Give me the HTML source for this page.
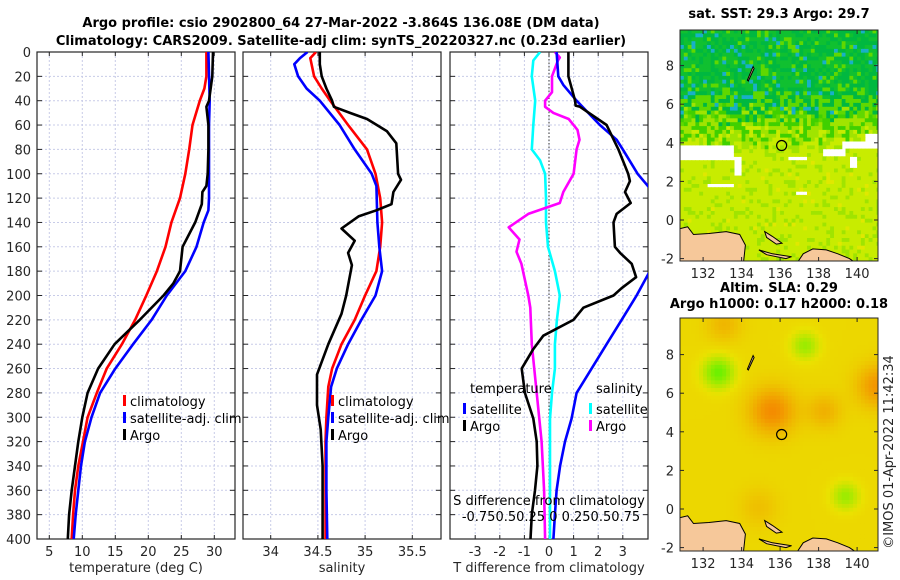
<!DOCTYPE html>
<html><head><meta charset="utf-8"><style>
html,body{margin:0;padding:0;background:#fff}
svg{display:block;font-family:"DejaVu Sans","Liberation Sans",sans-serif}
</style></head><body>
<svg id="fig" width="900" height="580" viewBox="0 0 900 580" xmlns="http://www.w3.org/2000/svg">
<g font-weight="bold" font-size="13" text-anchor="middle" fill="#000">
<text x="341" y="27">Argo profile: csio 2902800_64 27-Mar-2022 -3.864S 136.08E (DM data)</text>
<text x="341" y="45">Climatology: CARS2009. Satellite-adj clim: synTS_20220327.nc (0.23d earlier)</text>
</g>
<g id="p1"></g>
<g id="p2"></g>
<g id="p3"></g>
<g id="m1"></g>
<g id="m2"></g>
<text x="0" y="0" transform="translate(893,452) rotate(-90)" text-anchor="middle" font-size="13" fill="#262626">©IMOS 01-Apr-2022 11:42:34</text>
</svg>
<script>
// ---- data ----
const tClimDepth=[0,20,30,40,60,80,100,120,140,160,180,200,220,240,260,280,300,320,340,360,380,400];
const tClim=[28.8,28.8,28.5,27.8,26.7,26.2,25.6,24.8,23.5,22.6,21.3,19.7,18,16,13.7,12.2,10.8,10.1,9.4,8.9,8.6,8.4];
const tSatDepth=[0,40,60,80,100,120,130,140,160,180,200,220,240,260,280,300,320,340,360,380,400];
const tSat=[29.1,29.3,29.2,29.2,29.2,29.2,29.1,28.4,27.3,25.6,22.8,20.5,17.7,15,12.7,11.4,10.4,9.8,9.4,9.0,8.7];
const tArgoDepth=[0,20,40,45,60,80,100,110,115,125,140,160,180,190,200,220,240,260,280,300,320,340,360,380,400];
const tArgo=[29.8,29.7,29.2,28.8,29.1,29.1,29.0,28.8,28.2,28.1,27.1,25.2,24.8,23.8,22.3,18.7,14.9,12.4,10.8,10.0,9.4,8.9,8.4,8.0,7.8];
const sSatDepth=[0,5,10,20,30,40,60,80,100,110,140,160,180,200,220,240,260,275,300,320,360,400];
const sSat=[34.39,34.31,34.25,34.29,34.38,34.52,34.73,34.89,35.07,35.12,35.13,35.15,35.18,35.11,34.96,34.82,34.70,34.64,34.61,34.59,34.59,34.60];
const sClimDepth=[0,5,20,30,40,60,80,100,120,140,160,180,200,220,240,260,275,300,320,360,400];
const sClim=[34.48,34.42,34.46,34.54,34.63,34.82,35.02,35.11,35.16,35.18,35.16,35.12,35.0,34.89,34.75,34.65,34.61,34.59,34.58,34.58,34.58];
const sArgoDepth=[0,10,20,30,40,45,50,55,65,75,100,105,115,125,130,135,145,155,165,175,200,215,240,265,290,310,340,400];
const sArgo=[34.52,34.52,34.54,34.59,34.65,34.67,34.84,35.02,35.23,35.33,35.35,35.38,35.30,35.28,35.12,34.93,34.75,34.89,34.82,34.86,34.80,34.75,34.61,34.49,34.49,34.53,34.55,34.55];
const dTSatDepth=[0,20,27,40,60,72,80,100,112,180,200,220,240,260,280,301,320,340,360,380,400];
const dTSat=[0.31,0.38,0.58,1.12,2.07,2.75,3.0,3.6,4.1,4.1,3.56,2.95,2.34,1.73,1.12,0.92,0.65,0.45,0.31,0.24,0.18];
const dTArgoDepth=[0,20,40,44,45,60,80,100,106,115,124,133,140,160,165,174,185,194,200,210,220,233,244,260,280,301,320,340,360,380,400];
const dTArgo=[0.79,0.79,1.06,1.08,1.26,2.34,2.82,3.22,3.29,3.09,3.32,2.75,2.62,2.68,2.89,3.36,3.54,2.95,2.62,1.40,0.99,-0.23,-0.64,-1.11,-0.98,-0.64,-0.5,-0.47,-0.57,-0.70,-0.75];
const dSSatDepth=[0,7,20,40,60,80,89,100,120,140,160,180,200,220,240,260,280,301,340,400];
const dSSat=[-0.09,-0.16,-0.175,-0.14,-0.16,-0.175,-0.09,-0.04,-0.03,-0.03,-0.01,0.06,0.11,0.08,0.06,0.06,0.03,0.01,0.01,0.01];
const dSArgoDepth=[0,4.5,7,20,33,40,45,50,55,64,72,80,100,115,124,133,144,154,164,174,200,210,240,280,320,360,400];
const dSArgo=[0.06,0.11,0.09,0.03,0.03,-0.04,-0.04,0.045,0.2,0.29,0.31,0.28,0.25,0.145,0.11,-0.21,-0.41,-0.3,-0.33,-0.28,-0.21,-0.19,-0.175,-0.125,-0.075,-0.05,-0.04];
const depthTicks=[0,20,40,60,80,100,120,140,160,180,200,220,240,260,280,300,320,340,360,380,400];
const tTicks=[5,10,15,20,25,30];
const sTicks=[34,34.5,35,35.5];
const sTickLabels=["34","34.5","35","35.5"];
const dTicks=[-3,-2,-1,0,1,2,3];
const lonTicks=[132,134,136,138,140];
const latTicks=[-2,0,2,4,6,8];

const NS="http://www.w3.org/2000/svg";
function mk(parent,tag,attrs,text){const e=document.createElementNS(NS,tag);for(const k in attrs)e.setAttribute(k,attrs[k]);if(text!==undefined)e.textContent=text;parent.appendChild(e);return e;}
const Y0=52,Y1=539;
const yD=d=>Y0+d*(Y1-Y0)/400;
const TXT="#262626";

function panel(g,x0,x1,xs,ticks,labels,showY,xlabel){
  const clip=mk(document.getElementById('fig'),'clipPath',{id:'c'+g.id});
  mk(clip,'rect',{x:x0,y:Y0,width:x1-x0,height:Y1-Y0});
  ticks.forEach((t,i)=>{
    const gl=mk(g,'line',{x1:xs(t),x2:xs(t),y1:Y0,y2:Y1,stroke:'#c8cce8','stroke-width':1,'stroke-dasharray':'2,2'});
    
    const lb=mk(g,'text',{x:xs(t),y:556,'text-anchor':'middle','font-size':13,fill:TXT},labels[i]);
    
    mk(g,'line',{x1:xs(t),x2:xs(t),y1:Y1,y2:Y1-4,stroke:'#262626'});
    mk(g,'line',{x1:xs(t),x2:xs(t),y1:Y0,y2:Y0+4,stroke:'#262626'});
  });
  depthTicks.forEach(d=>{
    const gl=mk(g,'line',{x1:x0,x2:x1,y1:yD(d),y2:yD(d),stroke:'#c8cce8','stroke-width':1,'stroke-dasharray':'2,2'});
    
    mk(g,'line',{x1:x0,x2:x0+5,y1:yD(d),y2:yD(d),stroke:'#262626'});
    mk(g,'line',{x1:x1,x2:x1-5,y1:yD(d),y2:yD(d),stroke:'#262626'});
    if(showY){const lb=mk(g,'text',{x:31,y:yD(d)+5,'text-anchor':'end','font-size':13,fill:TXT},String(d));
      }
  });
  const fr=mk(g,'rect',{x:x0,y:Y0,width:x1-x0,height:Y1-Y0,fill:'none',stroke:'#262626','stroke-width':1.2});
  
  const xl=mk(g,'text',{x:(x0+x1)/2,y:572,'text-anchor':'middle','font-size':13,fill:TXT},xlabel);
  
}
function line(g,xs,depths,vals,color,name){
  const pts=vals.map((v,i)=>xs(v).toFixed(1)+','+yD(depths[i]).toFixed(1)).join(' ');
  const p=mk(g,'polyline',{points:pts,fill:'none',stroke:color,'stroke-width':2.6,'stroke-linejoin':'round','clip-path':'url(#c'+g.id+')'});
  
}
function legend(g,x,y,items){
  items.forEach((it,i)=>{
    mk(g,'rect',{x:x,y:y+i*17-6,width:3,height:11,fill:it[0]});
    const t=mk(g,'text',{x:x+7,y:y+i*17+5,'font-size':13,fill:'#000'},it[1]);
    
  });
}
// panel 1
const p1=document.getElementById('p1');
const xT=t=>49.3+(t-5)*6.6;
panel(p1,37,235,xT,tTicks,tTicks.map(String),true,'temperature (deg C)');
line(p1,xT,tClimDepth,tClim,'#ff0000','temp-climatology-line');
line(p1,xT,tSatDepth,tSat,'#0000ff','temp-satellite-line');
line(p1,xT,tArgoDepth,tArgo,'#000000','temp-argo-line');
legend(p1,123,401,[['#ff0000','climatology'],['#0000ff','satellite-adj. clim'],['#000','Argo']]);
// panel 2
const p2=document.getElementById('p2');
const xS=s=>270.7+(s-34)*94.4;
panel(p2,243,441,xS,sTicks,sTickLabels,false,'salinity');
line(p2,xS,sClimDepth,sClim,'#ff0000','sal-climatology-line');
line(p2,xS,sSatDepth,sSat,'#0000ff','sal-satellite-line');
line(p2,xS,sArgoDepth,sArgo,'#000000','sal-argo-line');
legend(p2,331,401,[['#ff0000','climatology'],['#0000ff','satellite-adj. clim'],['#000','Argo']]);
// panel 3
const p3=document.getElementById('p3');
const xD=v=>549+v*24.6;
const xSD=s=>xD(s*4);
panel(p3,450,648,xD,dTicks,dTicks.map(String),false,'T difference from climatology');
mk(p3,'line',{x1:xD(0),x2:xD(0),y1:Y0,y2:Y1,stroke:'#333','stroke-width':1,'stroke-dasharray':'1.5,2'});
line(p3,xSD,dSSatDepth,dSSat,'#00ffff','sdiff-satellite-line');
line(p3,xSD,dSArgoDepth,dSArgo,'#ff00ff','sdiff-argo-line');
line(p3,xD,dTSatDepth,dTSat,'#0000ff','tdiff-satellite-line');
line(p3,xD,dTArgoDepth,dTArgo,'#000000','tdiff-argo-line');
mk(p3,'text',{x:470,y:393,'font-size':13,fill:'#000'},'temperature');
mk(p3,'text',{x:596,y:393,'font-size':13,fill:'#000'},'salinity');
legend(p3,463,409,[['#0000ff','satellite'],['#000','Argo']]);
legend(p3,589,409,[['#00ffff','satellite'],['#ff00ff','Argo']]);
const st=mk(p3,'text',{x:549,y:505,'text-anchor':'middle','font-size':13,fill:'#000'},'S difference from climatology');

const sl=mk(p3,'text',{x:551,y:521,'text-anchor':'middle','font-size':13,fill:'#000'},'-0.750.50.25 0 0.250.50.75');


// ---- maps ----
const lonX=l=>680+(l-130.8)*19.25;
function hash(i,j){let h=(i*374761393+j*668265263)^0x5bd1e995;h=(h^(h>>>13))*1274126177;h=h^(h>>>16);return ((h>>>0)%1000)/1000;}
function landPolys(){return [
 [[130.8,-0.45],[131.2,-0.35],[131.5,-0.75],[132.3,-0.7],[133.2,-0.6],[133.9,-0.75],[134.2,-1.3],[134.1,-2.2],[130.8,-2.2]],
 [[135.2,-0.6],[135.6,-0.85],[136.1,-1.2],[135.8,-1.25],[135.3,-0.9]],
 [[134.9,-1.55],[135.6,-1.75],[136.6,-1.9],[136.3,-2.0],[135.3,-1.8]],
 [[136.9,-2.2],[137.2,-1.75],[137.7,-1.5],[138.4,-1.55],[139.0,-1.75],[139.6,-2.0],[139.9,-2.2]],
 [[134.6,7.95],[134.65,7.85],[134.35,7.2],[134.3,7.25]]
];}
function map(g,top,bot,yL,cellFn,title1,title2){
  const id='c'+g.id;
  const clip=mk(document.getElementById('fig'),'clipPath',{id:id});
  mk(clip,'rect',{x:680,y:top,width:198,height:bot-top});
  const cg=mk(g,'g',{'clip-path':'url(#'+id+')'});
  const step=0.2;
  for(let lo=130.8;lo<141.2;lo+=step){for(let la=-2.3;la<10;la+=step){
    const c=cellFn(lo,la,Math.round(lo*5),Math.round(la*5));
    if(!c)continue;
    mk(cg,'rect',{x:lonX(lo).toFixed(1),y:yL(la+step).toFixed(1),width:(step*19.25+0.6).toFixed(1),height:(step*19.3+0.6).toFixed(1),fill:c});
  }}
  landPolys().forEach(p=>{
    const l=mk(cg,'polygon',{points:p.map(q=>lonX(q[0]).toFixed(1)+','+yL(q[1]).toFixed(1)).join(' '),fill:'#f6c89a',stroke:'#000','stroke-width':1});
    
  });
  const c=mk(g,'circle',{cx:lonX(136.08),cy:yL(3.86),r:5,fill:'none',stroke:'#000','stroke-width':1.2});
  
  const fr=mk(g,'rect',{x:680,y:top,width:198,height:bot-top,fill:'none',stroke:'#262626','stroke-width':1});
  
  lonTicks.forEach(l=>{
    mk(g,'line',{x1:lonX(l),x2:lonX(l),y1:bot,y2:bot-4,stroke:'#262626'});
    mk(g,'line',{x1:lonX(l),x2:lonX(l),y1:top,y2:top+4,stroke:'#262626'});
    const t=mk(g,'text',{x:lonX(l),y:bot+17,'text-anchor':'middle','font-size':13,fill:TXT},String(l));
    
  });
  latTicks.forEach(l=>{
    mk(g,'line',{x1:680,x2:684,y1:yL(l),y2:yL(l),stroke:'#262626'});
    mk(g,'line',{x1:878,x2:874,y1:yL(l),y2:yL(l),stroke:'#262626'});
    const t=mk(g,'text',{x:674,y:yL(l)+5,'text-anchor':'end','font-size':13,fill:TXT},String(l));
    
  });
  const t1=mk(g,'text',{x:779,y:title2?top-26:top-12,'text-anchor':'middle','font-size':13,'font-weight':'bold',fill:'#000'},title1);
  
  if(title2){const t2=mk(g,'text',{x:779,y:top-10,'text-anchor':'middle','font-size':13,'font-weight':'bold',fill:'#000'},title2);
    }
}
const yTop=la=>220-la*19.3;
const yBot=la=>509-la*19.3;
const whites=[[130.8,133.5,3.1,3.8],[136.3,137.2,3.0,3.3],[138.0,139.2,3.3,3.6],[139.0,141.2,3.6,4.0],[140.3,141.2,4.0,4.4],[132.0,133.5,1.6,1.8],[136.7,137.3,1.3,1.5],[133.5,133.8,2.2,3.2],[139.5,139.9,2.6,3.2]];
map(document.getElementById('m1'),30,261,yTop,(lo,la,i,j)=>{
  for(const w of whites){if(lo>=w[0]&&lo<w[1]&&la>=w[2]&&la<w[3])return null;}
  const r=hash(i,j);
  let g=Math.min(1,Math.max(0,(la-3.0)/4));
  g+= (r-0.5)*0.6;
  if(g>0.75){ if(r>0.93&&la>5.5) return '#18b0c8'; return r>0.5?'#00b840':'#10c030';}
  if(g>0.45) return r>0.5?'#40d000':'#60d800';
  if(g>0.2) return '#a0e400';
  return r>0.8?'#e0e800':'#c8ec00';
},'sat. SST: 29.3 Argo: 29.7');
const blobs=[[135.5,5.0,0.8,1.2],[141.0,6.3,0.7,1.1],[138.2,5.0,0.4,0.9],[133.0,9.5,0.35,0.9],[132.7,7.0,-0.9,0.8],[137.2,8.4,-0.6,0.7],[139.3,0.6,-0.6,0.7],[134.8,0.0,0.25,1.0]];
map(document.getElementById('m2'),318,551,yBot,(lo,la)=>{
  let v=0.1;
  for(const b of blobs){const d=((lo-b[0])**2+(la-b[1])**2)/(b[3]*b[3]);v+=b[2]*Math.exp(-d);}
  v=Math.max(-1,Math.min(1,v));
  let r,g,b2;
  if(v>=0){r=235+10*v;g=225-95*v;b2=0;}else{r=235+160*v;g=225+20*(-v);b2=0;}
  return 'rgb('+Math.round(r)+','+Math.round(g)+','+b2+')';
},'Altim. SLA: 0.29','Argo h1000: 0.17 h2000: 0.18');
</script>
</body></html>
